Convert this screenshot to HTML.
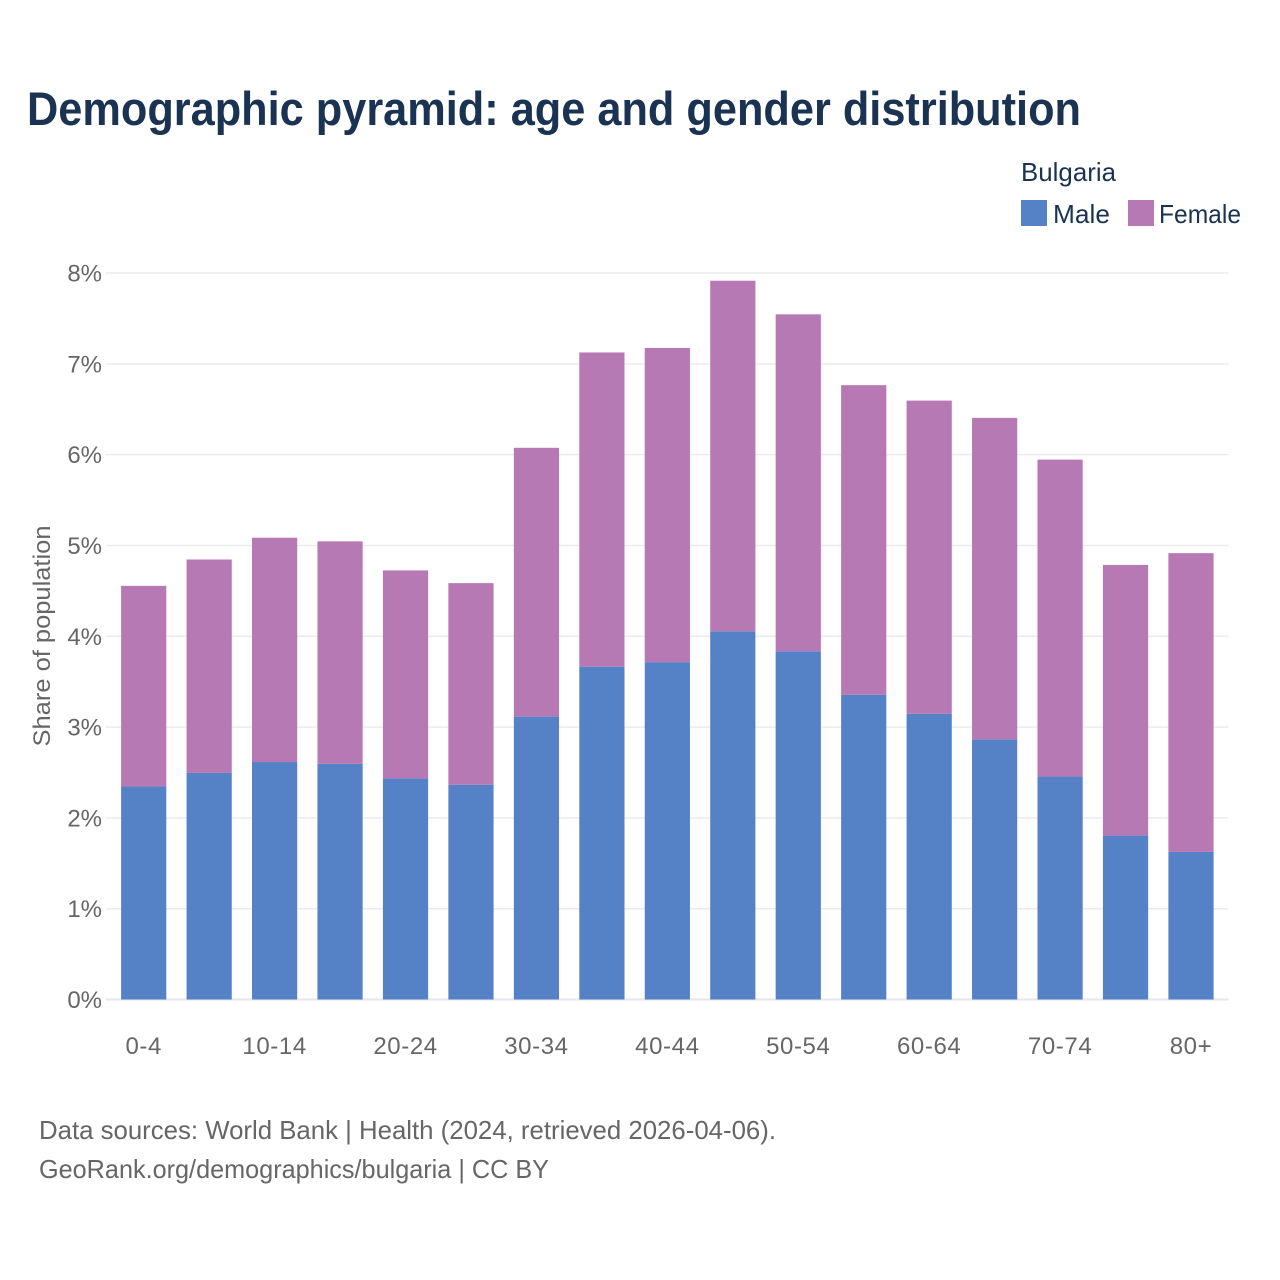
<!DOCTYPE html>
<html lang="en">
<head>
<meta charset="utf-8">
<title>Demographic pyramid: Bulgaria</title>
<style>
  html, body { margin: 0; padding: 0; background: #fff; }
  svg { display: block; font-family: "Liberation Sans", sans-serif; }
  .tick { font-size: 24px; fill: #666666; }
  .foot { font-size: 26px; fill: #666666; }
  .leg { font-size: 26px; fill: #1a3352; }
</style>
</head>
<body>
<svg id="chart" width="1280" height="1280" viewBox="0 0 1280 1280" xmlns="http://www.w3.org/2000/svg">
  <rect x="0" y="0" width="1280" height="1280" fill="#ffffff"/>
  <text x="27" y="125" font-size="47" font-weight="700" fill="#1a3352" textLength="1054" lengthAdjust="spacingAndGlyphs">Demographic pyramid: age and gender distribution</text>
  <text class="leg" x="1021" y="181" textLength="95" lengthAdjust="spacingAndGlyphs">Bulgaria</text>
  <rect x="1021" y="200" width="26" height="26" fill="#5582c6"/>
  <text class="leg" x="1053" y="223" textLength="57" lengthAdjust="spacingAndGlyphs">Male</text>
  <rect x="1128" y="200" width="26" height="26" fill="#b779b3"/>
  <text class="leg" x="1159" y="223" textLength="82" lengthAdjust="spacingAndGlyphs">Female</text>
  <g id="grid"></g>
  <g id="bars"></g>
  <g id="yticks"></g>
  <g id="xticks"></g>
  <text class="tick" transform="translate(50,636) rotate(-90)" text-anchor="middle" textLength="221" lengthAdjust="spacingAndGlyphs">Share of population</text>
  <text class="foot" x="39" y="1139" textLength="737" lengthAdjust="spacingAndGlyphs">Data sources: World Bank | Health (2024, retrieved 2026-04-06).</text>
  <text class="foot" x="39" y="1178" textLength="510" lengthAdjust="spacingAndGlyphs">GeoRank.org/demographics/bulgaria | CC BY</text>
</svg>
<script>
const categories = ['0-4','5-9','10-14','15-19','20-24','25-29','30-34','35-39','40-44','45-49','50-54','55-59','60-64','65-69','70-74','75-79','80+'];
const maleValues = [2.345,2.495,2.615,2.595,2.435,2.365,3.115,3.665,3.715,4.055,3.835,3.355,3.145,2.865,2.455,1.805,1.625];
const femaleValues = [2.21,2.35,2.47,2.45,2.29,2.22,2.96,3.46,3.46,3.86,3.71,3.41,3.45,3.54,3.49,2.98,3.29];
const yTickValues = [0,1,2,3,4,5,6,7,8];
const xLabelEvery = 2;

const NS = 'http://www.w3.org/2000/svg';
const plotLeft = 106, plotRight = 1228.5, y0 = 999.5, yMax = 273, yDomainMax = 8;
const firstCenter = 143.7, lastCenter = 1191, barWidth = 45.2;

function yScale(v) { return y0 - (v / yDomainMax) * (y0 - yMax); }
function xScale(i) { return firstCenter + i * (lastCenter - firstCenter) / (categories.length - 1); }
function make(tag, attrs) {
  const el = document.createElementNS(NS, tag);
  for (const k in attrs) el.setAttribute(k, attrs[k]);
  return el;
}

const grid = document.getElementById('grid');
const bars = document.getElementById('bars');
const yticks = document.getElementById('yticks');
const xticks = document.getElementById('xticks');

yTickValues.forEach(function (t) {
  const y = yScale(t);
  const line = make('line', { x1: plotLeft, x2: plotRight, y1: y, y2: y, stroke: t === 0 ? '#e6e6ee' : '#ebebeb', 'stroke-width': t === 0 ? 2 : 1.5 });
  
  
  grid.appendChild(line);
  const label = make('text', { x: 102, y: y + 8.5, 'text-anchor': 'end', class: 'tick' });
  
  
  label.textContent = t + '%';
  yticks.appendChild(label);
});

categories.forEach(function (c, i) {
  const cx = xScale(i);
  const maleTop = yScale(maleValues[i]);
  const totalTop = yScale(maleValues[i] + femaleValues[i]);
  const male = make('rect', { x: cx - barWidth / 2, y: maleTop, width: barWidth, height: y0 - maleTop, fill: '#5582c6' });
  
  
  bars.appendChild(male);
  const female = make('rect', { x: cx - barWidth / 2, y: totalTop, width: barWidth, height: maleTop - totalTop, fill: '#b779b3' });
  
  
  bars.appendChild(female);
  if (i % xLabelEvery === 0) {
    const label = make('text', { x: cx, y: 1054, 'text-anchor': 'middle', class: 'tick', 'letter-spacing': '0.6' });
    
    
    label.textContent = c;
    xticks.appendChild(label);
  }
});
</script>
</body>
</html>
